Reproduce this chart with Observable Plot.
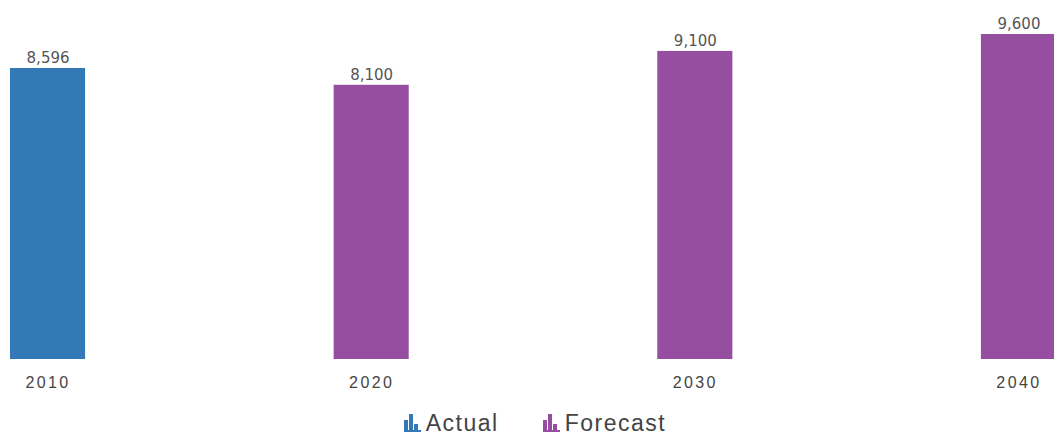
<!DOCTYPE html>
<html>
<head>
<meta charset="utf-8">
<script src="https://cdn.jsdelivr.net/npm/d3@7"></script>
<script src="https://cdn.jsdelivr.net/npm/@observablehq/plot@0.6"></script>
<style>
  html, body { margin: 0; padding: 0; background: #fff; }
  #chart svg { display: block; }
  #legend { height: 46px; display: flex; justify-content: center; align-items: center; font-family: "Liberation Sans", Arial, sans-serif; font-size: 23px; color: #444; letter-spacing: 1.5px; padding-left: 16px; box-sizing: border-box; }
  .item { display: flex; align-items: center; margin: 0 22px; }
  .item svg { margin-right: 5px; }
</style>
</head>
<body>
<div id="chart"></div>
<div id="legend"></div>
<script>
const years = ["2010", "2020", "2030", "2040"];
const values = [8596, 8100, 9100, 9600];
const kinds = ["Actual", "Forecast", "Forecast", "Forecast"];
const seriesNames = ["Actual", "Forecast"];
const seriesColors = ["#3479b7", "#954ea0"];

const data = years.map((y, i) => ({year: y, value: values[i], kind: kinds[i]}));

const chart = Plot.plot({
  width: 1054,
  height: 400,
  marginTop: 0, marginBottom: 41, marginLeft: 0, marginRight: 0,
  style: {background: "#fff", overflow: "visible"},
  x: {domain: years, type: "band", range: [10, 1056], paddingInner: 0.768, paddingOuter: 0, round: false, label: null},
  y: {domain: [0, 9600], range: [359, 34], axis: null},
  color: {domain: seriesNames, range: seriesColors},
  marks: [
    Plot.barY(data, {x: "year", y: "value", fill: "kind"}),
    Plot.text(data, {x: "year", y: "value", text: d => d3.format(",")(d.value), dy: -10, fontSize: 15, fill: "#555", fontFamily: "DejaVu Sans, Verdana, sans-serif", style: "letter-spacing:1px"}),
    Plot.axisX({tickSize: 0, tickPadding: 17, fontSize: 16, fill: "#444", fontFamily: "Liberation Sans, Arial, sans-serif", label: null})
  ]
});
chart.querySelectorAll("g[aria-label='x-axis tick label'] text").forEach(t => t.style.letterSpacing = "2.4px");
document.getElementById("chart").appendChild(chart);

function icon(color) {
  return `<svg width="17" height="18" viewBox="0 0 17 18"><rect x="0" y="6" width="4" height="12" fill="${color}"/><rect x="5" y="0" width="4" height="18" fill="${color}"/><rect x="10" y="10" width="4" height="8" fill="${color}"/><rect x="0" y="16" width="17" height="2" fill="${color}"/></svg>`;
}
const legend = document.getElementById("legend");
legend.innerHTML = seriesNames.map((n, i) => `<span class="item">${icon(seriesColors[i])}<span>${n}</span></span>`).join("");
</script>
</body>
</html>
